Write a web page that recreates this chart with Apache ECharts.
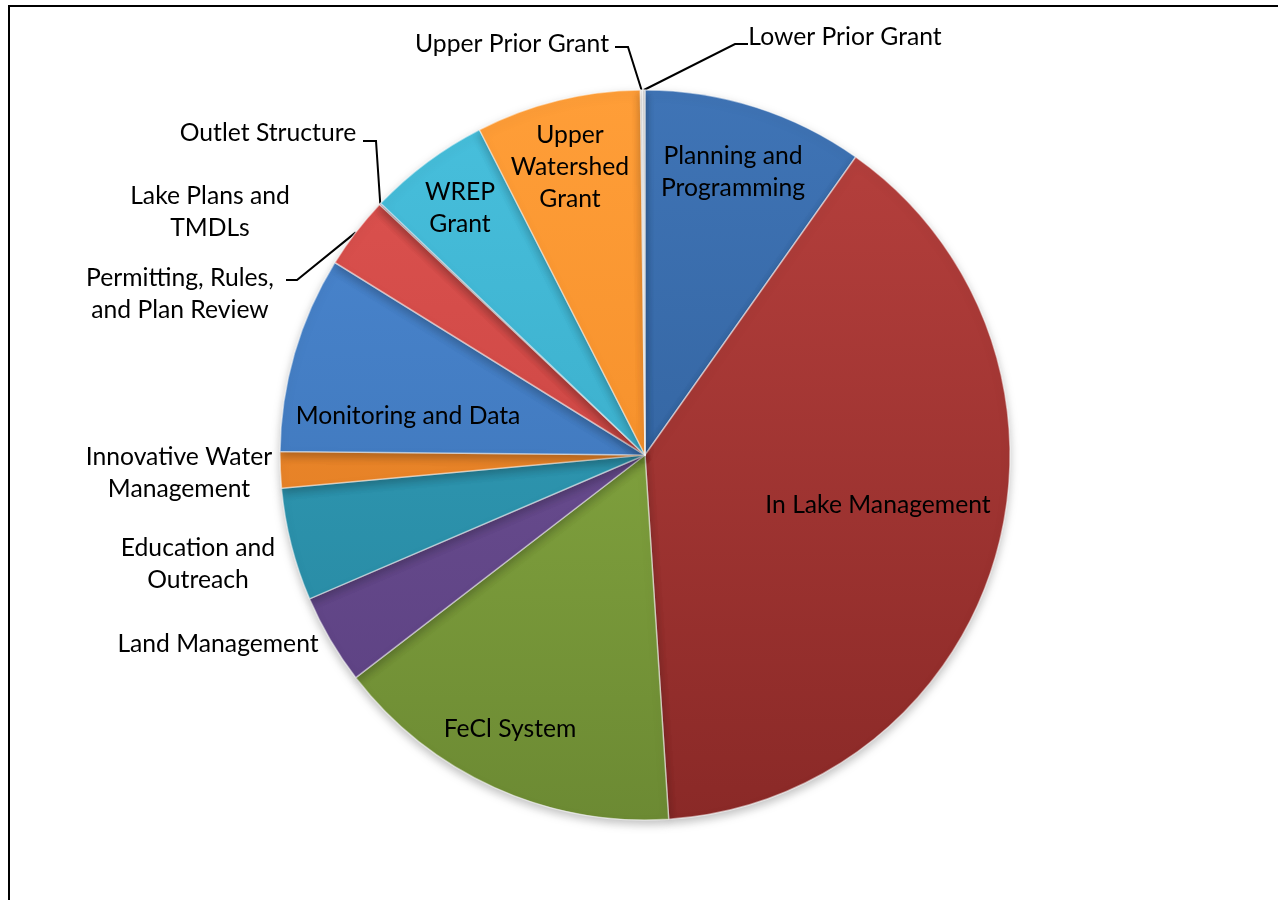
<!DOCTYPE html>
<html><head><meta charset="utf-8">
<script src="https://cdn.jsdelivr.net/npm/echarts@6/dist/echarts.min.js"></script>
<style>html,body{margin:0;padding:0;background:#fff}#c{width:1278px;height:900px}</style>
</head><body><div id="c"></div>
<script>
// ---- data ----
const categories = [
  'Planning and\nProgramming',
  'In Lake Management',
  'FeCl System',
  'Land Management',
  'Education and\nOutreach',
  'Innovative Water\nManagement',
  'Monitoring and Data',
  'Permitting, Rules,\nand Plan Review',
  'Lake Plans and\nTMDLs',
  'Outlet Structure',
  'WREP\nGrant',
  'Upper\nWatershed\nGrant',
  'Upper Prior Grant',
  'Lower Prior Grant'
];
const values = [9.8, 39.2, 15.6, 4.0, 5.0, 1.6, 8.7, 3.2, 0.02, 0.05, 5.4, 7.3, 0.1, 0.1];

// ---- styles ----
const colorsTop    = ['#3F74B6','#B8413E','#90B446','#735699','#33A3BE','#F48F30','#4B88D2','#DE5350','#90B446','#735699','#48C0DD','#FF9E38','#E6E6E6','#C8C8C8'];
const colorsBottom = ['#2C5A92','#8A2927','#6C8A33','#5A3F80','#26849D','#DC7820','#3A6FB0','#C03F3C','#6C8A33','#5A3F80','#32A2BF','#EE8622','#CFCFCF','#AFAFAF'];
// label centres [x, y] and optional leader elbow/end points
const labelCenters = [
  [733,172],[878,505],[510,729],[218,644],[198,564],[179,473],[408,416],
  [180,294],[210,212],[268,133],[460,208],[570,167],[512,44],[845,37]
];
const leaderLines = {
  7:  [[297,280],[286,280]],
  9:  [[376,141],[363,141]],
  12: [[628,47],[615,47]],
  13: [[735,44],[748,44]]
};

const chart = echarts.init(document.getElementById('c'), null, {renderer:'canvas'});
const data = categories.map((name, i) => ({
  name: name,
  value: values[i],
  itemStyle: {
    color: new echarts.graphic.LinearGradient(0, 90, 0, 820, [
      {offset:0, color: colorsTop[i]}, {offset:1, color: colorsBottom[i]}
    ], true)
  },
  labelLine: {show: !!leaderLines[i]}
}));

chart.setOption({
  animation: false,
  graphic: [{
    type: 'polyline',
    shape: {points: [[9, 900], [9, 6], [1278, 6]]},
    style: {stroke: '#000', lineWidth: 2, fill: null}
  }],
  series: [{
    type: 'pie',
    center: [645, 455],
    radius: 365,
    startAngle: 90,
    clockwise: true,
    avoidLabelOverlap: false,
    stillShowZeroSum: true,
    emphasis: {disabled: true},
    data: data,
    itemStyle: {
      borderColor: 'rgba(255,255,255,0.5)',
      borderWidth: 1.5,
      shadowBlur: 10,
      shadowColor: 'rgba(0,0,0,0.25)',
      shadowOffsetY: 4
    },
    label: {
      show: true,
      position: 'outside',
      formatter: '{b}',
      fontFamily: 'Lato',
      fontSize: 24.7,
      lineHeight: 32,
      color: '#000',
      align: 'center'
    },
    labelLine: {
      lineStyle: {color: '#000', width: 2}
    },
    labelLayout: function (p) {
      const i = p.dataIndex;
      const c = labelCenters[i];
      const res = {x: c[0], y: c[1], align: 'center', verticalAlign: 'middle'};
      if (leaderLines[i] && p.labelLinePoints) {
        const s = p.labelLinePoints[0];
        res.labelLinePoints = [s, leaderLines[i][0], leaderLines[i][1]];
      }
      return res;
    }
  }]
});
</script>
</body></html>
